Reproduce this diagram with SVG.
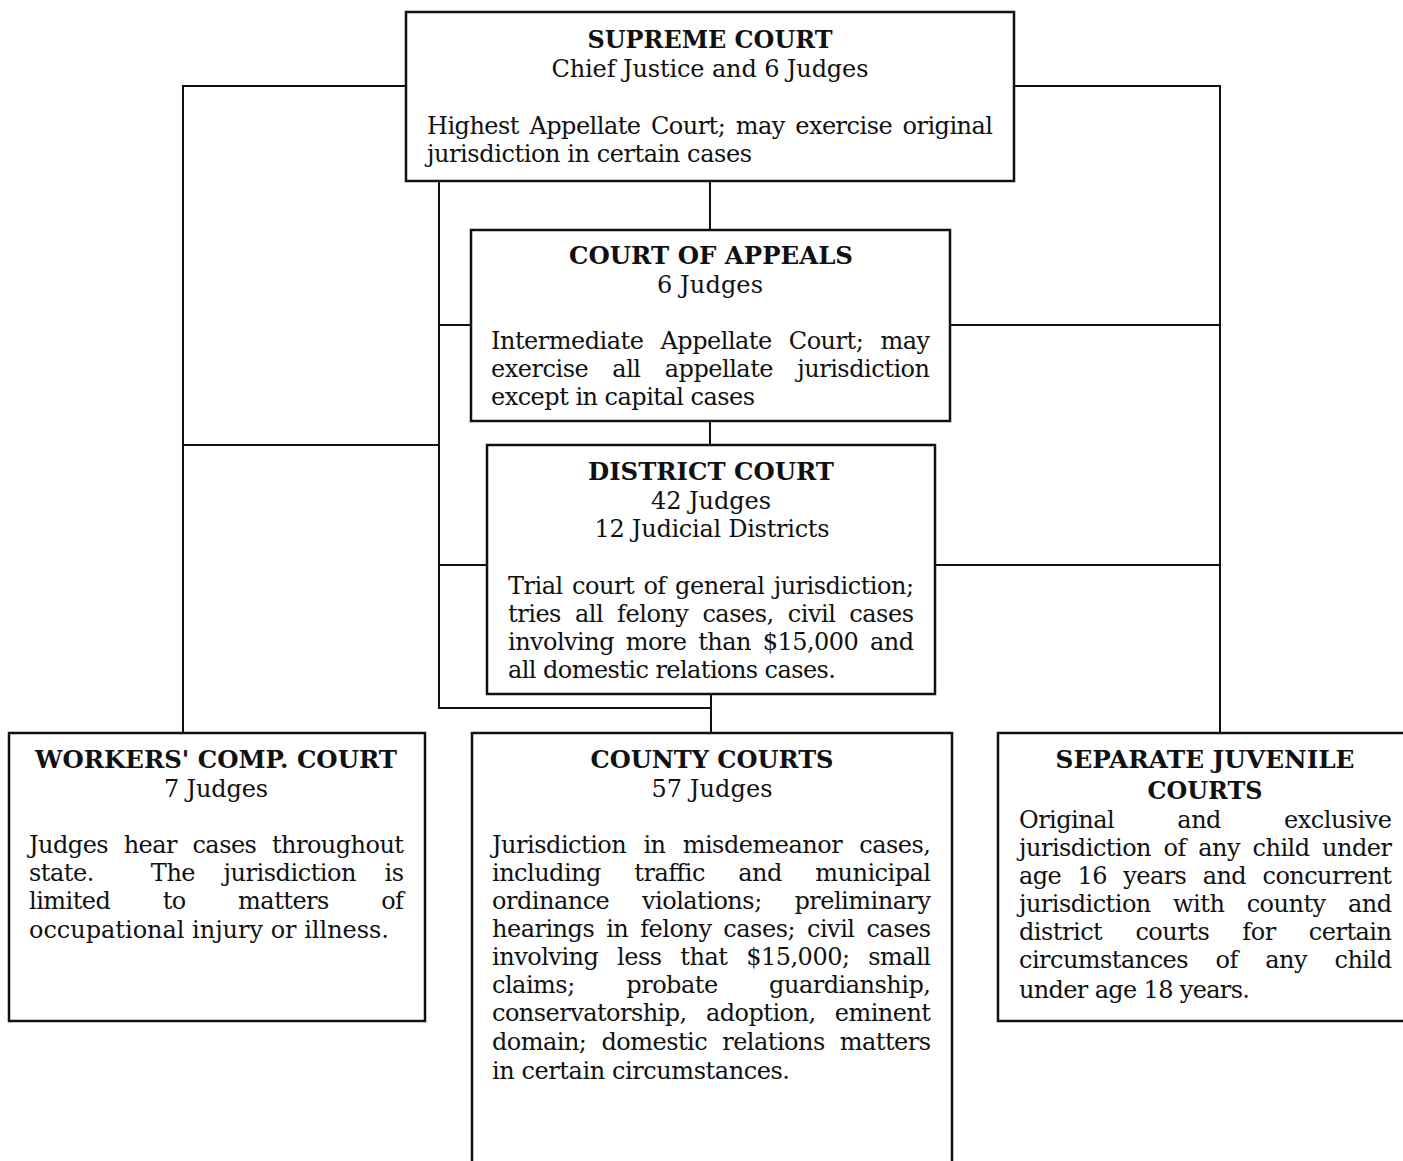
<svg xmlns="http://www.w3.org/2000/svg" width="1403" height="1161" viewBox="0 0 1403 1161">
<style>
.box{fill:#fff;stroke:#111;stroke-width:2.5}
.ln{fill:none;stroke:#111;stroke-width:2}
text{font-family:"DejaVu Serif","Liberation Serif",serif;fill:#111}
.t{font-size:25px;font-weight:bold;text-anchor:middle}
.s{font-size:24px;text-anchor:middle}
.b{font-size:24px}
</style>
<rect width="1403" height="1161" fill="#fff"/>
<g id="connectors">
<path class="ln" d="M406,86 H183 V733"/>
<path class="ln" d="M1014,86 H1220 V733"/>
<path class="ln" d="M710,181 V230"/>
<path class="ln" d="M439,181 V708 H712"/>
<path class="ln" d="M711,694 V733"/>
<path class="ln" d="M439,325 H471"/>
<path class="ln" d="M950,325 H1220"/>
<path class="ln" d="M183,445 H439"/>
<path class="ln" d="M710,421 V445"/>
<path class="ln" d="M439,565 H487"/>
<path class="ln" d="M935,565 H1220"/>
</g>
<g id="supreme">
<rect class="box" x="406" y="12" width="608" height="169"/>
<text class="t" x="710" y="48" textLength="245" lengthAdjust="spacingAndGlyphs">SUPREME COURT</text>
<text class="s" x="710" y="77" textLength="317" lengthAdjust="spacing">Chief Justice and 6 Judges</text>
<text class="b" x="427" y="134" word-spacing="3.3" textLength="566" lengthAdjust="spacing">Highest Appellate Court; may exercise original</text>
<text class="b" x="427" y="162" textLength="325" lengthAdjust="spacing">jurisdiction in certain cases</text>
</g>
<g id="appeals">
<rect class="box" x="471" y="230" width="479" height="191"/>
<text class="t" x="711" y="264" textLength="284" lengthAdjust="spacingAndGlyphs">COURT OF APPEALS</text>
<text class="s" x="710" y="293" textLength="106" lengthAdjust="spacing">6 Judges</text>
<text class="b" x="491" y="349" word-spacing="10" textLength="439" lengthAdjust="spacing">Intermediate Appellate Court; may</text>
<text class="b" x="491" y="377" word-spacing="17" textLength="439" lengthAdjust="spacing">exercise all appellate jurisdiction</text>
<text class="b" x="491" y="405" textLength="264" lengthAdjust="spacing">except in capital cases</text>
</g>
<g id="district">
<rect class="box" x="487" y="445" width="448" height="249"/>
<text class="t" x="711" y="480" textLength="246" lengthAdjust="spacingAndGlyphs">DISTRICT COURT</text>
<text class="s" x="711" y="509" textLength="120" lengthAdjust="spacing">42 Judges</text>
<text class="s" x="712" y="537" textLength="235" lengthAdjust="spacing">12 Judicial Districts</text>
<text class="b" x="508" y="594" word-spacing="2.2" textLength="406" lengthAdjust="spacing">Trial court of general jurisdiction;</text>
<text class="b" x="508" y="622" word-spacing="6.8" textLength="406" lengthAdjust="spacing">tries all felony cases, civil cases</text>
<text class="b" x="508" y="650" word-spacing="4.7" textLength="406" lengthAdjust="spacing">involving more than $15,000 and</text>
<text class="b" x="508" y="678" textLength="328" lengthAdjust="spacing">all domestic relations cases.</text>
</g>
<g id="workers">
<rect class="box" x="9" y="733" width="416" height="288"/>
<text class="t" x="216" y="768" textLength="362" lengthAdjust="spacingAndGlyphs">WORKERS' COMP. COURT</text>
<text class="s" x="216" y="797" textLength="104" lengthAdjust="spacing">7 Judges</text>
<text class="b" x="29" y="853" word-spacing="8.4" textLength="375" lengthAdjust="spacing">Judges hear cases throughout</text>
<text class="b" x="29" y="881" word-spacing="21.3" textLength="375" lengthAdjust="spacing" xml:space="preserve">state.  The jurisdiction is</text>
<text class="b" x="29" y="909" word-spacing="45.2" textLength="375" lengthAdjust="spacing">limited to matters of</text>
<text class="b" x="29" y="938" textLength="360" lengthAdjust="spacing">occupational injury or illness.</text>
</g>
<g id="county">
<rect class="box" x="472" y="733" width="480" height="450"/>
<text class="t" x="712" y="768" textLength="243" lengthAdjust="spacingAndGlyphs">COUNTY COURTS</text>
<text class="s" x="712" y="797" textLength="121" lengthAdjust="spacing">57 Judges</text>
<text class="b" x="492" y="853" word-spacing="10" textLength="439" lengthAdjust="spacing">Jurisdiction in misdemeanor cases,</text>
<text class="b" x="492" y="881" word-spacing="26.4" textLength="439" lengthAdjust="spacing">including traffic and municipal</text>
<text class="b" x="492" y="909" word-spacing="25.6" textLength="439" lengthAdjust="spacing">ordinance violations; preliminary</text>
<text class="b" x="492" y="937" word-spacing="4.8" textLength="439" lengthAdjust="spacing">hearings in felony cases; civil cases</text>
<text class="b" x="492" y="965" word-spacing="11.6" textLength="439" lengthAdjust="spacing">involving less that $15,000; small</text>
<text class="b" x="492" y="993" word-spacing="44.4" textLength="439" lengthAdjust="spacing">claims; probate guardianship,</text>
<text class="b" x="492" y="1021" word-spacing="12.2" textLength="439" lengthAdjust="spacing">conservatorship, adoption, eminent</text>
<text class="b" x="492" y="1050" word-spacing="8" textLength="439" lengthAdjust="spacing">domain; domestic relations matters</text>
<text class="b" x="492" y="1079" textLength="298" lengthAdjust="spacing">in certain circumstances.</text>
</g>
<g id="juvenile">
<rect class="box" x="998" y="733" width="420" height="288"/>
<text class="t" x="1205" y="768" textLength="299" lengthAdjust="spacingAndGlyphs">SEPARATE JUVENILE</text>
<text class="t" x="1205" y="799" textLength="115" lengthAdjust="spacingAndGlyphs">COURTS</text>
<text class="b" x="1019" y="828" word-spacing="56.1" textLength="373" lengthAdjust="spacing">Original and exclusive</text>
<text class="b" x="1019" y="856" word-spacing="5.3" textLength="373" lengthAdjust="spacing">jurisdiction of any child under</text>
<text class="b" x="1019" y="884" word-spacing="9.3" textLength="373" lengthAdjust="spacing">age 16 years and concurrent</text>
<text class="b" x="1019" y="912" word-spacing="15.3" textLength="373" lengthAdjust="spacing">jurisdiction with county and</text>
<text class="b" x="1019" y="940" word-spacing="26" textLength="373" lengthAdjust="spacing">district courts for certain</text>
<text class="b" x="1019" y="968" word-spacing="20.4" textLength="373" lengthAdjust="spacing">circumstances of any child</text>
<text class="b" x="1019" y="998" textLength="231" lengthAdjust="spacing">under age 18 years.</text>
</g>
</svg>
